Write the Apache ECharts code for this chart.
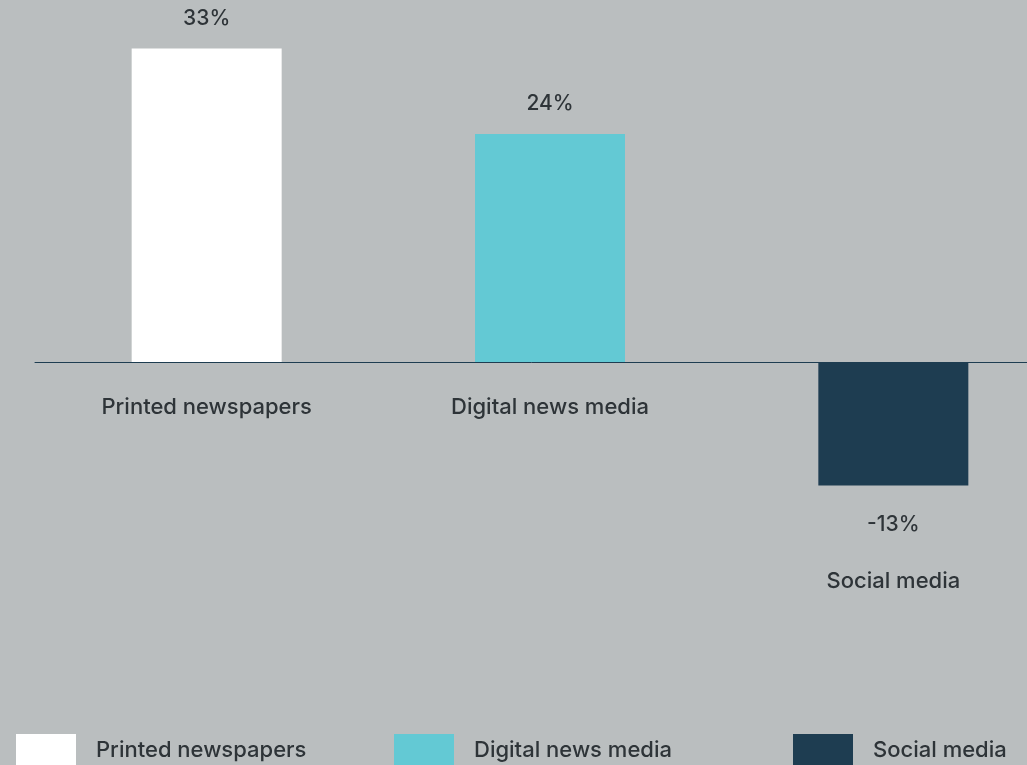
<!DOCTYPE html>
<html>
<head>
<meta charset="utf-8">
<script src="https://cdn.jsdelivr.net/npm/echarts@6/dist/echarts.min.js"></script>
<style>
  html, body { margin: 0; padding: 0; background: #babebf; }
  #chart { width: 1027px; height: 765px; }
</style>
</head>
<body>
<div id="chart"></div>
<script>
// Change in trust by media type (percentage points)
const categories = ['Printed newspapers', 'Digital news media', 'Social media'];
const values = [33, 24, -13];
const colors = ['#ffffff', '#63c9d4', '#1e3d51'];

const FONT = 'Inter, "Noto Sans", sans-serif';
const TEXT = '#2e3438';

const chart = echarts.init(document.getElementById('chart'));

// one series per category so each gets its own legend entry;
// a negative bar carries its category name below its value label
const series = categories.map((name, i) => {
  const data = categories.map((_, j) => (j === i ? values[i] : '-'));
  const positive = values[i] >= 0;
  return {
    name: name,
    type: 'bar',
    stack: 'all',
    barWidth: 150,
    data: data,
    itemStyle: { color: colors[i] },
    label: {
      show: true,
      position: positive ? 'top' : 'bottom',
      distance: positive ? 18 : 27,
      formatter: p => positive ? '{v|' + p.value + '%}' : '{v|' + p.value + '%}\n{c|' + name + '}',
      rich: {
        v: { fontFamily: FONT, fontSize: 21, fontWeight: 500, color: TEXT, lineHeight: 24 },
        c: { fontFamily: FONT, fontSize: 22, fontWeight: 500, color: TEXT, lineHeight: 90 }
      }
    }
  };
});

// separate legends so each item sits at its own spot along the bottom
const legendLefts = [16, 394, 793];
const legends = categories.map((name, i) => ({
  data: [name],
  left: legendLefts[i],
  top: 734,
  padding: 0,
  icon: 'rect',
  itemWidth: 60,
  itemHeight: 32,
  itemGap: 0,
  selectedMode: false,
  textStyle: {
    fontFamily: FONT,
    fontSize: 22,
    fontWeight: 500,
    color: TEXT,
    padding: [0, 0, 0, 15]
  }
}));

chart.setOption({
  backgroundColor: '#babebf',
  animation: false,
  legend: legends,
  grid: { left: 35, width: 1030, top: 29.5, bottom: 213, outerBoundsMode: 'none', containLabel: false },
  xAxis: {
    type: 'category',
    data: categories,
    axisLine: { show: true, onZero: true, lineStyle: { color: '#1e3d51', width: 1 } },
    axisTick: { show: false },
    axisLabel: {
      // labels sit just under the zero line, which is 190px above the grid bottom
      margin: -156,
      interval: 0,
      hideOverlap: false,
      fontFamily: FONT,
      fontSize: 22,
      fontWeight: 500,
      color: TEXT,
      // negative categories are labelled under their bars instead
      formatter: (name, idx) => (values[idx] < 0 ? '' : name)
    }
  },
  yAxis: {
    type: 'value',
    min: -20,
    max: 35,
    show: false,
    splitLine: { show: false }
  },
  series: series
});
</script>
</body>
</html>
